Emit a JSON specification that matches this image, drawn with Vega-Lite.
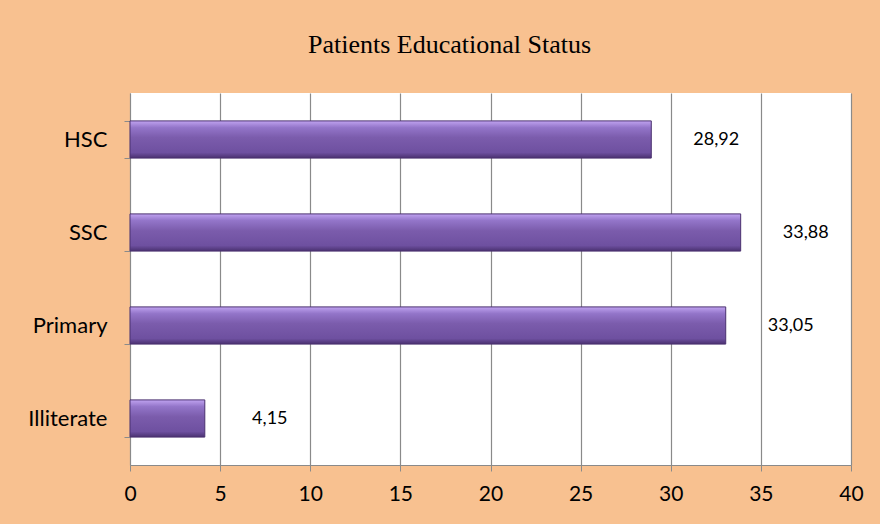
{
  "$schema": "https://vega.github.io/schema/vega-lite/v6.json",
  "width": 721,
  "height": 372,
  "autosize": {"type": "none"},
  "padding": {"left": 130, "top": 93, "right": 29, "bottom": 59},
  "background": "#F8C190",
  "config": {
    "view": {"fill": "white", "stroke": null},
    "locale": {"number": {"decimal": ",", "thousands": ".", "grouping": [3], "currency": ["", ""]}}
  },
  "title": {
    "text": "Patients Educational Status",
    "font": "Liberation Serif",
    "fontSize": 26,
    "fontWeight": "normal",
    "color": "black",
    "anchor": "middle",
    "frame": "group",
    "dx": -41,
    "offset": 24
  },
  "data": {
    "values": [
      {"level": "HSC", "pct": 28.92},
      {"level": "SSC", "pct": 33.88},
      {"level": "Primary", "pct": 33.05},
      {"level": "Illiterate", "pct": 4.15}
    ]
  },
  "encoding": {
    "y": {
      "field": "level",
      "type": "nominal",
      "sort": ["HSC", "SSC", "Primary", "Illiterate"],
      "scale": {"paddingInner": 0.6, "paddingOuter": 0.3},
      "axis": {
        "title": null,
        "tickBand": "extent",
        "domainColor": "#8A8A8A",
        "tickColor": "#8A8A8A",
        "tickSize": 6,
        "labelFont": "Lato",
        "labelFontSize": 22,
        "labelColor": "black",
        "labelPadding": 17
      }
    },
    "x": {
      "field": "pct",
      "type": "quantitative",
      "scale": {"domain": [0, 40], "nice": false},
      "axis": {
        "title": null,
        "values": [0, 5, 10, 15, 20, 25, 30, 35, 40],
        "grid": true,
        "gridColor": "#8A8A8A",
        "gridWidth": 1.2,
        "domainColor": "#8A8A8A",
        "tickColor": "#8A8A8A",
        "tickSize": 6,
        "labelFlush": false,
        "labelFont": "Lato",
        "labelFontSize": 21,
        "labelColor": "black",
        "labelPadding": 12,
        "format": "d"
      }
    }
  },
  "layer": [
    {
      "mark": {
        "type": "bar",
        "stroke": "#4A3170",
        "strokeWidth": 1,
        "fill": {
          "gradient": "linear",
          "x1": 0, "y1": 0, "x2": 0, "y2": 1,
          "stops": [
            {"offset": 0, "color": "#C0A3F0"},
            {"offset": 0.18, "color": "#9375C9"},
            {"offset": 0.45, "color": "#7B5CAC"},
            {"offset": 0.85, "color": "#6E50A0"},
            {"offset": 1, "color": "#4A3170"}
          ]
        }
      }
    },
    {
      "mark": {"type": "text", "align": "center", "baseline": "middle", "dx": 65, "font": "Lato", "fontSize": 18, "color": "black"},
      "encoding": {"text": {"field": "pct", "type": "quantitative", "format": ".2f"}}
    }
  ]
}
